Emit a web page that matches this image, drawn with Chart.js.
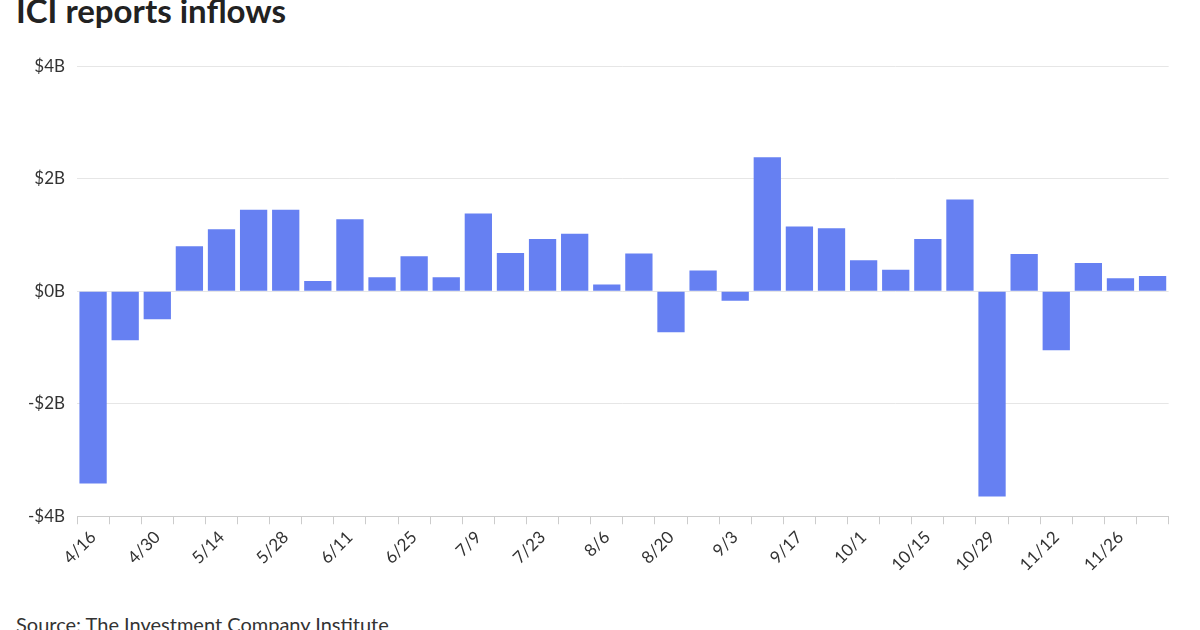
<!DOCTYPE html>
<html><head><meta charset="utf-8">
<script src="https://cdn.jsdelivr.net/npm/chart.js@4"></script>
<style>
body{margin:0;width:1200px;height:630px;overflow:hidden;background:#fff;font-family:Lato,sans-serif;position:relative}
#title{position:absolute;left:16px;top:-10px;font-size:33px;font-weight:bold;color:#222}
#src{position:absolute;left:16px;top:612px;font-size:20px;color:#333}
#wrap{position:absolute;left:0;top:44px;width:1170px;height:534px}
</style></head><body>
<div id="title">ICI reports inflows</div>
<div id="wrap"><canvas id="c"></canvas></div>
<div id="src">Source: The Investment Company Institute</div>
<script>
var weeks = ['4/16','4/23','4/30','5/7','5/14','5/21','5/28','6/4','6/11','6/18','6/25','7/2','7/9','7/16','7/23','7/30','8/6','8/13','8/20','8/27','9/3','9/10','9/17','9/24','10/1','10/8','10/15','10/22','10/29','11/5','11/12','11/19','11/26','12/3'];
var inflows = [-3.42,-0.87,-0.5,0.8,1.1,1.45,1.45,0.18,1.28,0.25,0.62,0.25,1.38,0.68,0.93,1.02,0.12,0.67,-0.73,0.37,-0.17,2.38,1.15,1.12,0.55,0.38,0.93,1.63,-3.65,0.66,-1.05,0.5,0.23,0.27];
var yTicks = [-4,-2,0,2,4];

new Chart(document.getElementById('c'), {
  type: 'bar',
  data: { labels: weeks, datasets: [{ data: inflows, backgroundColor: '#6680f2', categoryPercentage: 0.85, barPercentage: 1 }] },
  options: {
    responsive: true, maintainAspectRatio: false, animation: false,
    layout: { padding: { left: 16, top: 6 } },
    plugins: { legend: { display: false }, tooltip: { enabled: false } },
    scales: {
      y: {
        min: -4, max: 4,
        afterBuildTicks: function(ax){ ax.ticks = yTicks.map(function(v){ return {value: v}; }); },
        ticks: { color: '#333', font: { family: 'Lato', size: 17 }, padding: 12,
          callback: function(v){ return (v < 0 ? '-$' : '$') + Math.abs(v) + 'B'; } },
        grid: { color: '#e6e6e6', drawTicks: false },
        border: { display: false }
      },
      x: {
        ticks: { autoSkip: false, maxRotation: 45, minRotation: 45, color: '#333', font: { family: 'Lato', size: 17 },
          callback: function(v, i){ return i % 2 === 0 ? weeks[i] : ''; } },
        grid: { drawOnChartArea: false, color: '#ccc', offset: true },
        border: { color: '#ccc' }
      }
    }
  }
});
</script>
</body></html>
